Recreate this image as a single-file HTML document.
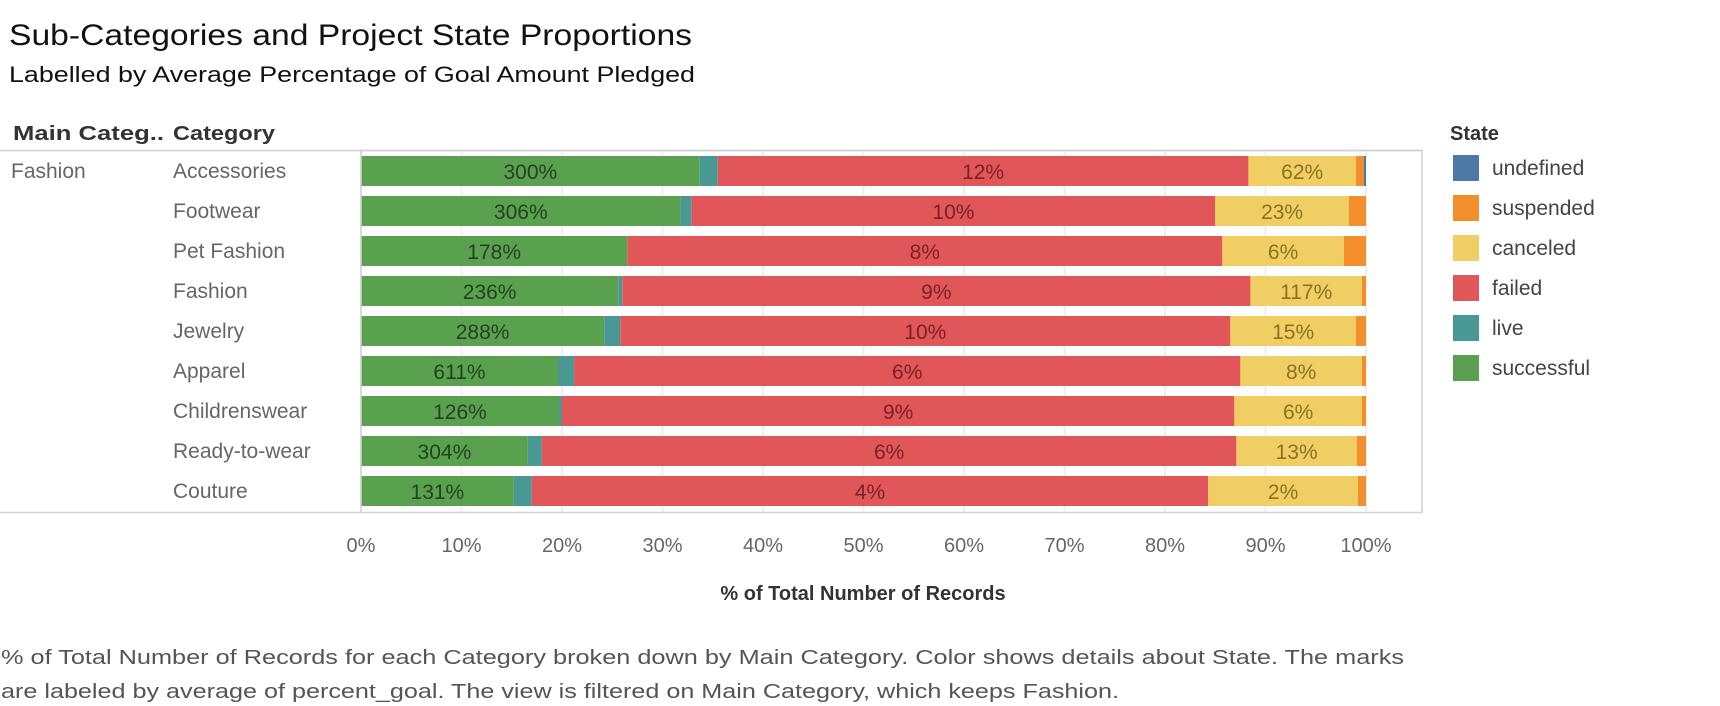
<!DOCTYPE html>
<html><head><meta charset="utf-8"><style>
html,body{margin:0;padding:0;background:#fff;}
svg{display:block;font-family:"Liberation Sans",sans-serif;}
</style></head><body>
<svg id="chart" width="1720" height="706" viewBox="0 0 1720 706">
<text x="9" y="45" font-size="30" fill="#111" textLength="683" lengthAdjust="spacingAndGlyphs">Sub-Categories and Project State Proportions</text>
<text x="9" y="82" font-size="22" fill="#111" textLength="686" lengthAdjust="spacingAndGlyphs">Labelled by Average Percentage of Goal Amount Pledged</text>
<text x="13" y="140" font-size="20" font-weight="bold" fill="#333" textLength="151" lengthAdjust="spacingAndGlyphs">Main Categ..</text>
<text x="173" y="140" font-size="20" font-weight="bold" fill="#333" textLength="102" lengthAdjust="spacingAndGlyphs">Category</text>
<line x1="0" y1="150.5" x2="1422" y2="150.5" stroke="#d0d0d0" stroke-width="1.5"/>
<line x1="0" y1="512.5" x2="361" y2="512.5" stroke="#d0d0d0" stroke-width="1.5"/>
<text x="11" y="178" font-size="21" fill="#666">Fashion</text>
<g id="grid"></g>
<g id="bars"></g>
<rect x="361" y="150.5" width="1061" height="362" fill="none" stroke="#d0d0d0" stroke-width="1.5"/>
<g id="ticks"></g>
<text x="863" y="600" font-size="20" font-weight="bold" fill="#333" text-anchor="middle">% of Total Number of Records</text>
<text x="1" y="664" font-size="20" fill="#555" textLength="1403" lengthAdjust="spacingAndGlyphs">% of Total Number of Records for each Category broken down by Main Category.  Color shows details about State.  The marks</text>
<text x="1" y="698" font-size="20" fill="#555" textLength="1118" lengthAdjust="spacingAndGlyphs">are labeled by average of percent_goal. The view is filtered on Main Category, which keeps Fashion.</text>
<text x="1450" y="140" font-size="20" font-weight="bold" fill="#333">State</text>
<g id="legend"></g>
</svg>
<script>
const categories=["Accessories","Footwear","Pet Fashion","Fashion","Jewelry","Apparel","Childrenswear","Ready-to-wear","Couture"];
const successful=[33.7,31.8,26.5,25.6,24.2,19.6,19.7,16.6,15.2];
const live=[1.8,1.1,0.0,0.4,1.6,1.6,0.3,1.4,1.8];
const failed=[52.8,52.1,59.2,62.5,60.7,66.3,66.9,69.1,67.3];
const canceled=[10.7,13.3,12.1,11.1,12.5,12.1,12.7,12.0,14.9];
const suspended=[0.8,1.7,2.2,0.4,1.0,0.4,0.4,0.9,0.8];
const undefinedS=[0.2,0,0,0,0,0,0,0,0];
const succLabels=["300%","306%","178%","236%","288%","611%","126%","304%","131%"];
const failLabels=["12%","10%","8%","9%","10%","6%","9%","6%","4%"];
const cancLabels=["62%","23%","6%","117%","15%","8%","6%","13%","2%"];
const tickValues=[0,10,20,30,40,50,60,70,80,90,100];
const legendStates=["undefined","suspended","canceled","failed","live","successful"];

const NS="http://www.w3.org/2000/svg";
const x0=361,x1=1366;
const xs=v=>x0+(x1-x0)*v/100;
const rowTop=i=>156+i*40;
const barH=30;
const colors={successful:"#59a14f",live:"#499894",failed:"#e15759",canceled:"#f1ce63",suspended:"#f28e2b",undefined:"#4e79a7"};
const labelColors={successful:"#24421f",failed:"#7a2224",canceled:"#8a7224"};
function mk(tag,attrs,parent){const e=document.createElementNS(NS,tag);for(const k in attrs)e.setAttribute(k,attrs[k]);parent.appendChild(e);return e;}
const grid=document.getElementById('grid'),bars=document.getElementById('bars'),ticks=document.getElementById('ticks'),legend=document.getElementById('legend');
tickValues.forEach(t=>{
  const gl=mk('line',{x1:xs(t),x2:xs(t),y1:151,y2:512,stroke:"#efefef","stroke-width":2},grid);
  
  
  const tl=mk('text',{x:xs(t),y:552,"font-size":20,fill:"#666","text-anchor":"middle"},ticks);
  tl.textContent=t+"%";
  
  
});
categories.forEach((c,i)=>{
  const cl=mk('text',{x:173,y:rowTop(i)+22,"font-size":21,fill:"#666"},bars);
  cl.textContent=c;
  
  
  const segs=[["successful",successful[i],succLabels[i]],["live",live[i],null],["failed",failed[i],failLabels[i]],["canceled",canceled[i],cancLabels[i]],["suspended",suspended[i],null],["undefined",undefinedS[i],null]];
  let acc=0;
  segs.forEach(([s,v,lab])=>{
    if(v<=0)return;
    const r=mk('rect',{x:xs(acc),y:rowTop(i),width:xs(acc+v)-xs(acc),height:barH,fill:colors[s]},bars);
    
    
    if(lab){
      const t=mk('text',{x:(xs(acc)+xs(acc+v))/2,y:rowTop(i)+23,"font-size":21,fill:labelColors[s],"text-anchor":"middle"},bars);
      t.textContent=lab;
      
      
    }
    acc+=v;
  });
});
legendStates.forEach((s,i)=>{
  const y=155+i*40;
  const r=mk('rect',{x:1453,y:y,width:26,height:26,fill:colors[s]},legend);
  
  
  const t=mk('text',{x:1492,y:y+20,"font-size":21,fill:"#444"},legend);
  t.textContent=s;
  
  
});
</script>
</body></html>
